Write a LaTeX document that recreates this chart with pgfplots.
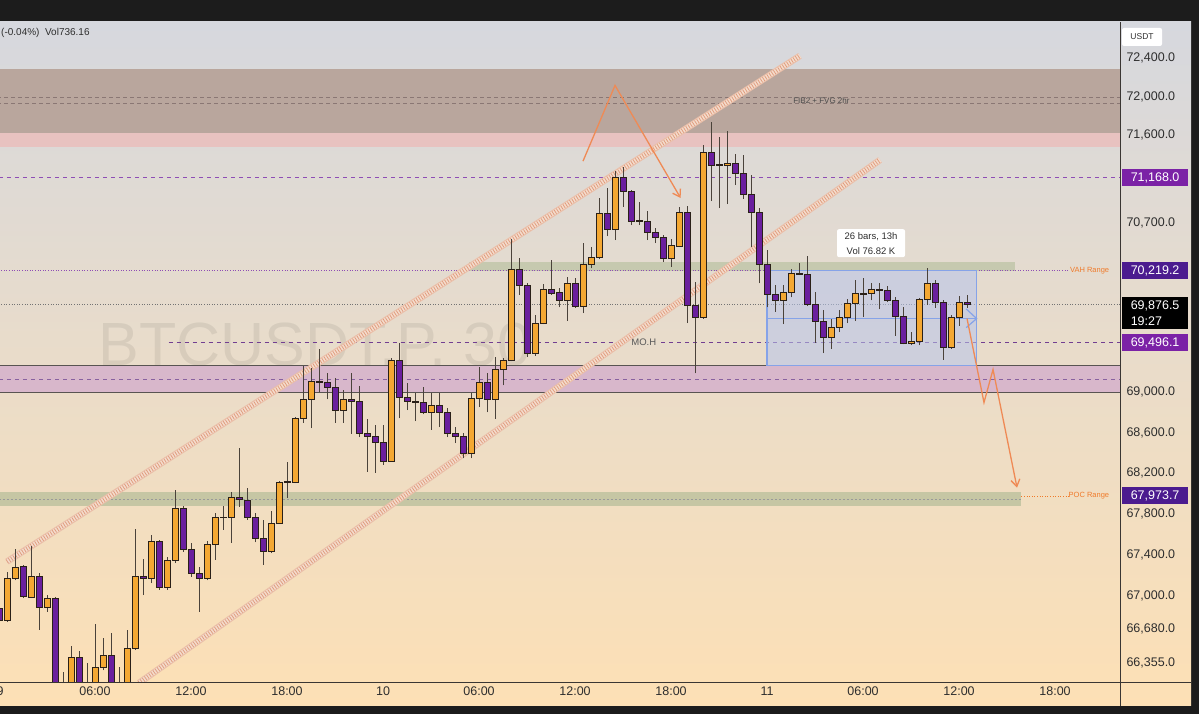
\documentclass[border=0pt]{standalone}
\usepackage{fontspec}
\setmainfont{Liberation Sans}
\usepackage{pgfplots}
\pgfplotsset{compat=1.18}
\usepackage{pgfplotstable}
\usetikzlibrary{arrows.meta}

\definecolor{bgtop}{HTML}{D6D8DE}
\definecolor{bgmid}{HTML}{EBDDCC}
\definecolor{bgbot}{HTML}{FDE0B5}
\definecolor{framec}{HTML}{1C1C1C}
\definecolor{sepc}{HTML}{3A3633}
\definecolor{bull}{HTML}{F4A833}
\definecolor{bear}{HTML}{6A1F9E}
\definecolor{wickc}{HTML}{4A423A}
\definecolor{edgec}{HTML}{2A2018}
\definecolor{brownzone}{HTML}{B9A69D}
\definecolor{pinkzone}{HTML}{E8C2C0}
\definecolor{mauvezone}{HTML}{D8B7CB}
\definecolor{greenzone}{HTML}{C3C8AC}
\definecolor{greenzone2}{HTML}{C6C6A4}
\definecolor{lvlpurple}{HTML}{8E4DB5}
\definecolor{lblpurple}{HTML}{7B22A6}
\definecolor{lblindigo}{HTML}{4B1B8F}
\definecolor{rangeorange}{HTML}{F07A2A}
\definecolor{arroworange}{HTML}{EF8A55}
\definecolor{chanbase}{HTML}{EBBFA9}
\definecolor{chanlight}{HTML}{F4DCCD}
\definecolor{chandark}{HTML}{DC9372}
\definecolor{boxblue}{HTML}{B7C5EC}
\definecolor{boxedge}{HTML}{86A3E8}
\definecolor{txtgray}{HTML}{2E2E2E}
\definecolor{dashbrown}{HTML}{8A7774}

\newcommand\tickfont{\fontsize{12.5}{14}\selectfont}

\pgfplotsset{
  wick/.style={draw=wickc, line width=1pt},
  body/.style={draw=edgec, line width=0.7pt},
  chan1/.style={draw=chanbase, line width=6.5pt},
  chan2/.style={draw=chanlight, line width=4.4pt},
  chan3/.style={draw=chandark, line width=4.4pt, dash pattern=on 0.8pt off 1.8pt, draw opacity=0.85},
}
\tikzset{
  pricebox/.style={anchor=west, text=white, font=\tickfont, minimum width=66pt, minimum height=17pt, inner sep=1pt},
}

% 30-minute candles, x = hours since 9th 00:00
\pgfplotstableread{
x o h l c
0 66884 66913 66749 66768
0.5 66768 67232 66749 67164
1 67164 67455 67154 67280
1.5 67290 67300 66980 66990
2 66989 67484 66980 67183
2.5 67183 67222 66672 66893
3 66893 67009 66845 66971
3.5 66971 66990 66020 66050
4 66100 66269 66050 66120
4.5 66130 66518 66100 66413
5 66413 66470 66090 66120
5.5 66120 66355 66100 66140
6 66130 66730 66100 66317
6.5 66317 66595 66288 66432
7 66432 66643 66100 66130
7.5 66140 66317 66090 66120
8 66130 66672 66100 66499
8.5 66499 67650 66480 67183
9 67183 67358 67009 67164
9.5 67164 67591 67125 67532
10 67532 67542 67057 67086
10.5 67086 67377 67057 67348
11 67348 68030 67319 67855
11.5 67855 67874 67426 67455
12 67455 67513 67183 67222
12.5 67222 67280 66845 67173
13 67173 67532 67154 67503
13.5 67503 67806 67348 67766
14 67760 67874 67640 67766
14.5 67766 68011 67513 67961
15 67961 68443 67864 67943
15.5 67933 68050 67737 67757
16 67757 67806 67523 67562
16.5 67562 67737 67300 67435
17 67435 67825 67416 67708
17.5 67708 68119 67698 68109
18 68105 68305 67952 68112
18.5 68109 68750 68099 68730
19 68730 69266 68690 68928
19.5 68928 69236 68641 69106
20 69106 69436 68997 69098
20.5 69096 69196 68928 69047
21 69047 69136 68690 68819
21.5 68819 69017 68690 68918
22 68918 69186 68582 68910
22.5 68908 69057 68552 68582
23 68582 68730 68207 68562
23.5 68562 68671 68197 68502
24 68502 68671 68276 68315
24.5 68315 69336 68305 69316
25 69316 69486 68740 68948
25.5 68948 69086 68819 68908
26 68908 68987 68710 68900
26.5 68898 69047 68779 68789
27 68789 68987 68621 68868
27.5 68868 68987 68651 68789
28 68789 68839 68552 68591
28.5 68591 68651 68493 68562
29 68562 68591 68345 68385
29.5 68385 68987 68345 68938
30 68938 69246 68849 69096
30.5 69096 69196 68799 68928
31 68928 69346 68730 69226
31.5 69226 69336 69066 69316
32 69316 70536 69306 70231
32.5 70231 70343 69979 70069
33 70069 70089 69346 69386
33.5 69386 69767 69366 69687
34 69687 70079 69677 70029
34.5 70029 70323 69969 69989
35 69999 70039 69847 69918
35.5 69918 70150 69717 70089
36 70089 70140 69837 69857
36.5 69857 70495 69787 70282
37 70282 70454 70241 70353
37.5 70353 70954 70333 70801
38 70801 71056 70567 70637
38.5 70637 71231 70526 71169
39 71169 71272 70863 71016
39.5 71016 71036 70678 70719
40 70729 70914 70678 70719
40.5 70719 70822 70526 70607
41 70607 70647 70496 70556
41.5 70556 70576 70303 70343
42 70343 70536 70251 70475
42.5 70465 70863 70454 70811
43 70811 70873 69687 69868
43.5 69868 70099 69186 69747
44 69747 71498 69737 71426
44.5 71426 71736 70924 71292
45 71303 71581 70852 71292
45.5 71292 71653 70893 71313
46 71313 71405 71087 71210
46.5 71210 71395 70944 70995
47 70995 71190 70454 70811
47.5 70811 70852 70089 70282
48 70282 70424 69847 69969
48.5 69969 70069 69807 69918
49 69918 70069 69677 69999
49.5 69999 70231 69948 70191
50 70191 70292 70171 70181
50.5 70181 70364 69857 69878
51 69878 69999 69486 69697
51.5 69697 69817 69386 69546
52 69546 69737 69436 69646
52.5 69646 69817 69596 69747
53 69747 69928 69687 69888
53.5 69888 70120 69717 69989
54 69989 70140 69747 69979
54.5 69989 70089 69918 70029
55 70029 70089 69827 70009
55.5 70009 70059 69898 69918
56 69918 69948 69566 69757
56.5 69757 69847 69476 69486
57 69486 69596 69466 69506
57.5 69506 69938 69466 69928
58 69928 70241 69878 70079
58.5 70079 70120 69837 69898
59 69898 69918 69326 69446
59.5 69446 69767 69436 69747
60 69747 69958 69657 69898
60.5 69898 69979 69837 69876.5
}\candles

\begin{document}
\begin{tikzpicture}[x=1pt,y=1pt]
\fill[framec] (0,0) rectangle (1199,714);
\shade[top color=bgtop, middle color=bgmid, bottom color=bgbot] (0,8) rectangle (1191,692);

\begin{axis}[
  at={(0pt,31pt)}, anchor=south west,
  width=1120pt, height=661pt, scale only axis,
  % logarithmic price scale (as on the chart)
  y coord trafo/.code={%
    \begingroup
    \pgfkeys{/pgf/fpu=true,/pgf/fpu/output format=fixed}%
    \pgfmathparse{ln(#1)}%
    \global\let\mytrafores\pgfmathresult
    \endgroup
    \let\pgfmathresult\mytrafores},
  xmin=0.0625, xmax=70.06,
  ymin=66164, ymax=72777,
  clip mode=individual,
  axis x line*=bottom, axis y line*=right,
  axis line style={draw=none},
  tick style={draw=none},
  major tick length=0pt,
  ytick={72400,72000,71600,70700,69000,68600,68200,67800,67400,67000,66680,66355},
  yticklabels={{72,400.0},{72,000.0},{71,600.0},{70,700.0},{69,000.0},{68,600.0},{68,200.0},{67,800.0},{67,400.0},{67,000.0},{66,680.0},{66,355.0}},
  yticklabel pos=right,
  yticklabel style={anchor=west, xshift=3pt, font=\tickfont, text=txtgray},
  xtick={6,12,...,66},
  xticklabels={06:00,12:00,18:00,10,06:00,12:00,18:00,11,06:00,12:00,18:00},
  xticklabel style={font=\tickfont, text=txtgray},
]
% watermark
\node[font=\fontsize{61}{61}\selectfont, text=black, opacity=0.07] at (axis cs:19.75,69436) {BTCUSDT.P, 30};

% upper supply zone
\addplot[fill=pinkzone, draw=none] coordinates {(-1,72286) (71,72286) (71,71477) (-1,71477)} --cycle;
\addplot[fill=brownzone, draw=none] coordinates {(-1,72286) (71,72286) (71,71622) (-1,71622)} --cycle;
\addplot[draw=dashbrown, line width=0.7pt, dash pattern=on 4pt off 3pt] coordinates {(-1,71994) (71,71994)};
\addplot[draw=dashbrown, line width=0.7pt, dash pattern=on 4pt off 3pt] coordinates {(-1,71932) (71,71932)};
\node[font=\fontsize{8}{9}\selectfont, text=black!70] at (axis cs:51.4,71963) {FIB2 + FVG 2hr};

% 71168 level
\addplot[draw=lvlpurple, line width=0.9pt, dash pattern=on 4pt off 4pt] coordinates {(-1,71168) (71,71168)};

% VAH green zone and level
\addplot[fill=greenzone, draw=none, fill opacity=0.9] coordinates {(29.4,70303) (63.5,70303) (63.5,70219.2) (29.4,70219.2)} --cycle;
\addplot[draw=lvlpurple, line width=0.9pt, dash pattern=on 1pt off 1.6pt] coordinates {(-1,70219.2) (66.9,70219.2)};
\node[anchor=east, font=\fontsize{7.5}{8}\selectfont, text=rangeorange] at (axis cs:69.6,70219.2) {VAH Range};

% current price line
\addplot[draw=black!55, line width=0.8pt, dash pattern=on 1pt off 1.6pt] coordinates {(-1,69876.5) (71,69876.5)};

% MO.H level
\addplot[draw=lvlpurple!80!black, line width=0.9pt, dash pattern=on 4pt off 4pt] coordinates {(10.6,69496.1) (39.2,69496.1)};
\addplot[draw=lvlpurple!80!black, line width=0.9pt, dash pattern=on 4pt off 4pt] coordinates {(41.4,69496.1) (71,69496.1)};
\node[font=\fontsize{9.5}{10}\selectfont, text=black!65] at (axis cs:40.3,69496.1) {MO.H};

% mauve zone
\addplot[fill=mauvezone, draw=none] coordinates {(-1,69256) (71,69256) (71,68997) (-1,68997)} --cycle;
\addplot[draw=sepc!85, line width=0.9pt] coordinates {(-1,69256) (71,69256)};
\addplot[draw=sepc!85, line width=0.9pt] coordinates {(-1,68997) (71,68997)};
\addplot[draw=lvlpurple!60!gray, line width=0.8pt, dash pattern=on 4pt off 4pt] coordinates {(-1,69126) (71,69126)};

% POC zone
\addplot[fill=greenzone2, draw=none] coordinates {(-1,68011) (63.9,68011) (63.9,67874) (-1,67874)} --cycle;
\addplot[draw=black!40, line width=0.7pt, dash pattern=on 2pt off 2pt] coordinates {(-1,67940) (63.9,67940)};
\addplot[draw=rangeorange, line width=0.8pt, dash pattern=on 1pt off 1.6pt] coordinates {(63.9,67973.7) (66.9,67973.7)};
\node[anchor=east, font=\fontsize{7.5}{8}\selectfont, text=rangeorange] at (axis cs:69.6,67973.7) {POC Range};

% range box
\addplot[fill=boxblue, fill opacity=0.55, draw=boxedge, line width=1.1pt] coordinates {(48.0,70219.2) (61.1,70219.2) (61.1,69266) (48.0,69266)} --cycle;
\addplot[draw=boxedge, line width=1.2pt] coordinates {(48.0,69737) (61.1,69737)};
\addplot[draw=boxedge, line width=1.2pt] coordinates {(60.45,69830) (61.1,69737) (60.45,69640)};

% rising channel
\addplot[chan1] coordinates {(0.5,67329) (50.06,72421)};
\addplot[chan2] coordinates {(0.5,67329) (50.06,72421)};
\addplot[chan3] coordinates {(0.5,67329) (50.06,72421)};
\addplot[chan1] coordinates {(8.75,66164) (55.06,71344)};
\addplot[chan2] coordinates {(8.75,66164) (55.06,71344)};
\addplot[chan3] coordinates {(8.75,66164) (55.06,71344)};

% candles
\pgfplotstablegetrowsof{\candles}
\pgfmathtruncatemacro{\nlast}{\pgfplotsretval-1}
\pgfplotsforeachungrouped \ci in {0,...,\nlast}{%
  \pgfplotstablegetelem{\ci}{x}\of\candles\let\kx\pgfplotsretval
  \pgfplotstablegetelem{\ci}{o}\of\candles\let\ko\pgfplotsretval
  \pgfplotstablegetelem{\ci}{h}\of\candles\let\kh\pgfplotsretval
  \pgfplotstablegetelem{\ci}{l}\of\candles\let\kl\pgfplotsretval
  \pgfplotstablegetelem{\ci}{c}\of\candles\let\kc\pgfplotsretval
  \edef\xa{\fpeval{\kx-0.18}}%
  \edef\xb{\fpeval{\kx+0.18}}%
  \edef\kcol{\ifnum\fpeval{\kc>=\ko}=1 bull\else bear\fi}%
  \edef\tmp{%
    \noexpand\addplot[wick] coordinates {(\kx,\kl) (\kx,\kh)};
    \noexpand\addplot[body, fill=\kcol] coordinates {(\xa,\ko) (\xb,\ko) (\xb,\kc) (\xa,\kc)} --cycle;
  }%
  \tmp
}

% arrows
\addplot[draw=arroworange, line width=1.3pt, -{Straight Barb[length=7pt,width=9pt]}] coordinates {(36.5,71334) (38.5,72119) (42.6,70954)};
\addplot[draw=arroworange, line width=1.3pt, -{Straight Barb[length=7pt,width=9pt]}] coordinates {(60.5,69737) (61.56,68898) (62.125,69226) (63.625,68050)};

% range label
\node[fill=white, rounded corners=2pt, align=center, font=\fontsize{9.5}{15}\selectfont, text=txtgray, minimum width=68pt, inner sep=3pt] at (axis cs:54.5,70496) {26 bars, 13h\\Vol 76.82 K};

% price labels
\node[pricebox, fill=lblpurple] at (axis cs:70.18,71168) {71,168.0};
\node[pricebox, fill=lblindigo] at (axis cs:70.18,70219.2) {70,219.2};
\node[pricebox, fill=lblpurple] at (axis cs:70.18,69496.1) {69,496.1};
\node[pricebox, fill=lblindigo] at (axis cs:70.18,67973.7) {67,973.7};
\node[anchor=north west, fill=black, text=white, font=\fontsize{12.5}{16}\selectfont, align=left, minimum width=66pt, inner xsep=6pt, inner ysep=4pt] at (axis cs:70.18,69958) {69,876.5\\19:27};
\end{axis}

\draw[sepc, line width=1pt] (0,31) -- (1191,31);
\draw[sepc, line width=1pt] (1120,8) -- (1120,692);
\node[anchor=north, font=\tickfont, text=txtgray] at (0,31) {9};
\node[anchor=west, font=\fontsize{10}{12}\selectfont, text=txtgray, inner sep=0pt] at (1,681) {(-0.04\%)\ \ Vol736.16};
\node[fill=white, rounded corners=2pt, font=\fontsize{8.5}{10}\selectfont, text=txtgray, minimum width=40pt, minimum height=18pt, inner sep=1pt] at (1142,677) {USDT};
\pgfresetboundingbox
\useasboundingbox (0,0) rectangle (1199,714);
\end{tikzpicture}
\end{document}
